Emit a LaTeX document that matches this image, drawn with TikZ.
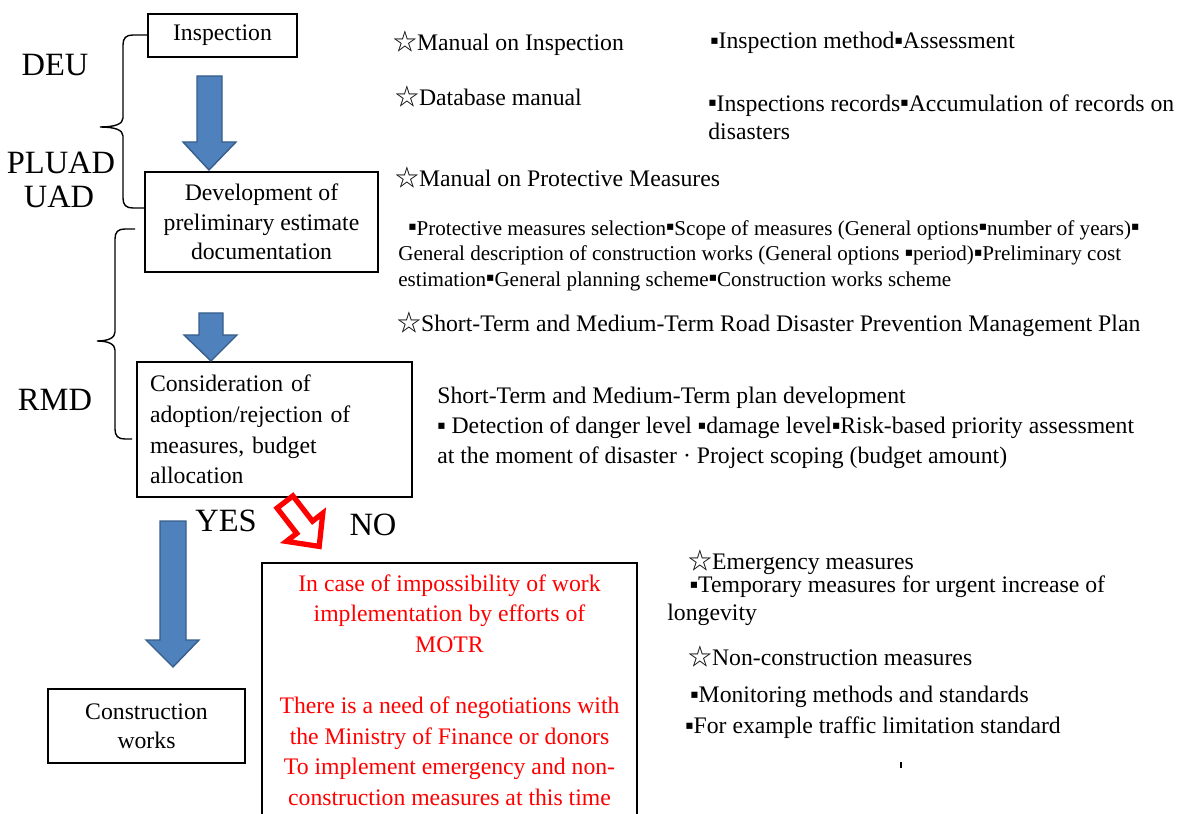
\documentclass[tikz,border=0pt]{standalone}
\usepackage{fontspec}
\setmainfont{Liberation Serif}
\newfontfamily\symfont{DejaVu Sans}
\newfontfamily\cjkfont{Noto Sans CJK JP}
\definecolor{arrblue}{HTML}{4F81BD}
\definecolor{arrblueedge}{HTML}{385D8A}
\newcommand{\wstar}{{\cjkfont ☆}}
\newcommand{\sqb}{{\symfont\fontsize{7}{7}\selectfont\raisebox{2.6pt}{▪}}}

\begin{document}
\begin{tikzpicture}[
  x=0.02cm, y=-0.02cm,
  procbox/.style={rectangle, draw=black, line width=0.8pt, inner sep=0pt,
    align=center, font=\fontsize{13.5}{16.7}\selectfont},
  unitlbl/.style={font=\fontsize{18.5}{21}\selectfont, inner sep=0pt},
  note/.style={anchor=west, align=left, inner sep=0pt,
    font=\fontsize{13.5}{17}\selectfont},
  blockarr/.style={fill=arrblue, draw=arrblueedge, line width=0.8pt},
  noarr/.style={fill=white, draw=red, line width=3pt, line join=miter},
  brace/.style={draw=black, line width=0.8pt},
]
\useasboundingbox (0,0) rectangle (1198,814);

% Process boxes
\node[procbox, minimum width=2.98cm, minimum height=0.86cm] (insp) at (222.5,35.5) {Inspection};
\node[procbox, minimum width=4.66cm, minimum height=2cm] (prelim) at (261.5,222)
  {Development of\\preliminary estimate\\documentation};
\node[procbox, minimum width=5.5cm, minimum height=2.7cm, align=left, text width=4.98cm,
  font=\fontsize{13.5}{17.4}\selectfont] (decide) at (274.5,429.5)
  {Consideration of\\adoption/rejection of\\measures, budget\\allocation};
\node[procbox, minimum width=3.94cm, minimum height=1.48cm,
  font=\fontsize{13.5}{16.4}\selectfont] (constr) at (146.5,726) {Construction\\works};
\node[procbox, text=red, minimum width=7.5cm, minimum height=5.08cm,
  font=\fontsize{13.5}{17.4}\selectfont] (motr) at (449.5,690)
  {In case of impossibility of work\\implementation by efforts of\\MOTR\\[17.4pt]
   There is a need of negotiations with\\the Ministry of Finance or donors\\
   To implement emergency and non-\\construction measures at this time};

% Departments
\node[unitlbl] (deu) at (55,65) {DEU};
\node[unitlbl] (pluad) at (61,163) {PLUAD};
\node[unitlbl] (uad) at (59,197) {UAD};
\node[unitlbl] (rmd) at (55,400) {RMD};
\node[unitlbl] (yes) at (226,521) {YES};
\node[unitlbl] (no) at (373,525) {NO};

% Braces
\draw[brace] (147,35) -- (133,35) .. controls (126,35) and (123,38) .. (123,45)
  -- (123,118) .. controls (123,124) and (115,127) .. (100,127)
  .. controls (115,127) and (123,130) .. (123,136)
  -- (123,198) .. controls (123,205) and (126,208) .. (133,208) -- (145,208);
\draw[brace] (135,229) -- (125,229) .. controls (118,229) and (115,232) .. (115,239)
  -- (115,332) .. controls (115,338) and (108,341) .. (97,341)
  .. controls (108,341) and (115,344) .. (115,350)
  -- (115,429) .. controls (115,436) and (118,439) .. (125,439) -- (132,439);

% Block arrows
\filldraw[blockarr] (197,76) -- (222,76) -- (222,142) -- (236,142) -- (209,170)
  -- (183,142) -- (197,142) -- cycle;
\filldraw[blockarr] (199,313) -- (223,313) -- (223,335) -- (237,335) -- (211,361)
  -- (184,335) -- (199,335) -- cycle;
\filldraw[blockarr] (160,521) -- (186,521) -- (186,640) -- (199,640) -- (173,667)
  -- (146,640) -- (160,640) -- cycle;
\filldraw[noarr] (292.9,495.9) -- (312.5,521.2) -- (322.8,513.2) -- (319.2,546.4)
  -- (286.4,541.4) -- (296.7,533.4) -- (277.1,508.1) -- cycle;

% Manuals and items
\node[note] (insptool) at (393,43) {\wstar Manual on Inspection};
\node[note] (inspitems) at (710,43) {\sqb Inspection method\sqb Assessment};
\node[note] (dbtool) at (395,97) {\wstar Database manual};
\node[note, font=\fontsize{13.5}{15.9}\selectfont] (dbitems) at (708,117)
  {\sqb Inspections records\sqb Accumulation of records on\\disasters};
\node[note] (protool) at (395,178) {\wstar Manual on Protective Measures};
\node[note, font=\fontsize{12}{14.5}\selectfont] (proitems) at (398,255.5)
  {\hspace{0.2cm}\sqb Protective measures selection\sqb Scope of measures (General options\sqb number of years)\sqb\\
   General description of construction works (General options \sqb period)\sqb Preliminary cost\\
   estimation\sqb General planning scheme\sqb Construction works scheme};
\node[note] (plantool) at (397,324)
  {\wstar Short-Term and Medium-Term Road Disaster Prevention Management Plan};
\node[note] (planitems) at (437,428)
  {Short-Term and Medium-Term plan development\\
   \sqb\ Detection of danger level \sqb damage level\sqb Risk-based priority assessment\\
   at the moment of disaster · Project scoping (budget amount)};
\node[note] (emtool) at (688,562) {\wstar Emergency measures};
\node[note, font=\fontsize{13.5}{15.9}\selectfont] (emitems) at (667,601)
  {\hspace{0.45cm}\sqb Temporary measures for urgent increase of\\longevity};
\node[note] (nctool) at (688,657) {\wstar Non-construction measures};
\node[note, font=\fontsize{13.5}{17.5}\selectfont] (ncitems) at (685,712.5)
  {\hspace{0.1cm}\sqb Monitoring methods and standards\\\sqb For example traffic limitation standard};

\draw[line width=1.5pt] (901,762) -- (901,768);
\end{tikzpicture}
\end{document}
